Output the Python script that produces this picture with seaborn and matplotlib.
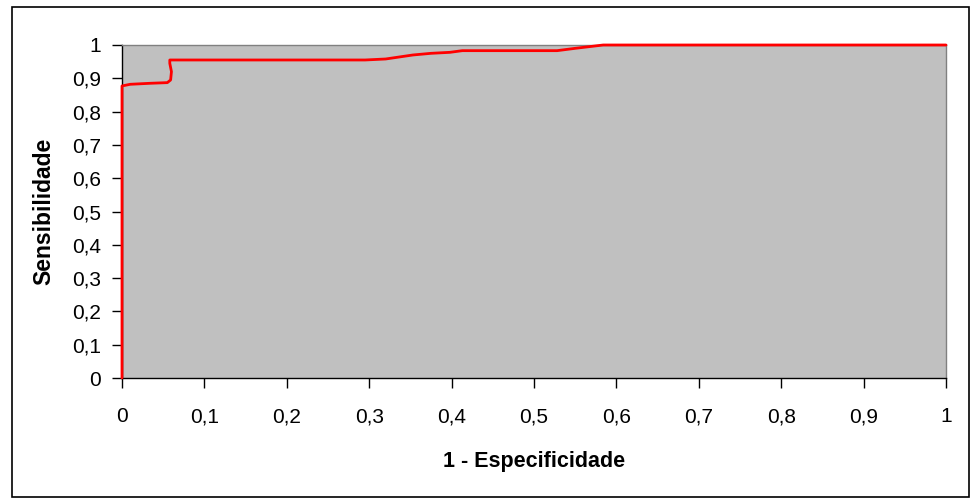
import matplotlib
matplotlib.use('Agg')
import matplotlib.pyplot as plt
import seaborn as sns
import pandas as pd
from matplotlib.patches import Rectangle

# ROC curve points
fpr = [0, 0, 0.010, 0.034, 0.055, 0.059, 0.060, 0.058, 0.058, 0.15, 0.295, 0.32, 0.353, 0.375, 0.398, 0.413, 0.528, 0.55, 0.584, 1.0]
tpr = [0, 0.877, 0.882, 0.885, 0.887, 0.895, 0.92, 0.945, 0.955, 0.955, 0.955, 0.958, 0.970, 0.975, 0.978, 0.983, 0.983, 0.99, 1.0, 1.0]
ticks = [0, 0.1, 0.2, 0.3, 0.4, 0.5, 0.6, 0.7, 0.8, 0.9, 1]
tick_labels = ['0', '0,1', '0,2', '0,3', '0,4', '0,5', '0,6', '0,7', '0,8', '0,9', '1']

df = pd.DataFrame({'fpr': fpr, 'tpr': tpr})

sns.set_style('white')
plt.rcParams['font.family'] = ['Liberation Sans', 'DejaVu Sans']
plt.rcParams['text.color'] = 'black'
plt.rcParams['axes.labelcolor'] = 'black'

fig = plt.figure(figsize=(9.72, 4.99), dpi=100)
ax = fig.add_axes([122/972, 1-378/499, 824/972, 333/499])
ax.set_facecolor('#C0C0C0')

# estimator=None so repeated x values are drawn as-is (vertical steps)
sns.lineplot(x='fpr', y='tpr', data=df, sort=False, estimator=None,
             color='#FF0000', linewidth=2, ax=ax, zorder=5, clip_on=False)

ax.set_xlim(0, 1)
ax.set_ylim(0, 1)
ax.set_xticks(ticks)
ax.set_xticklabels(tick_labels)
ax.set_yticks(ticks)
ax.set_yticklabels(tick_labels)
ax.tick_params(axis='both', direction='out', length=7, width=1, color='black',
               labelsize=15, labelcolor='black', bottom=True, left=True)
ax.tick_params(axis='x', pad=14)
ax.tick_params(axis='y', pad=8)

for s in ['top', 'right']:
    ax.spines[s].set_color('#808080')
    ax.spines[s].set_linewidth(1)
for s in ['left', 'bottom']:
    ax.spines[s].set_color('black')
    ax.spines[s].set_linewidth(1)

ax.set_xlabel('1 - Especificidade', fontsize=15.5, fontweight='bold', labelpad=18)
ax.set_ylabel('Sensibilidade', fontsize=16.5, fontweight='bold', labelpad=12)

# outer chart border
fig.patches.append(Rectangle((12/972, 2/499), 957/972, 490/499, transform=fig.transFigure,
                             fill=False, edgecolor='black', linewidth=1.2))

plt.savefig('out.png', dpi=100)
